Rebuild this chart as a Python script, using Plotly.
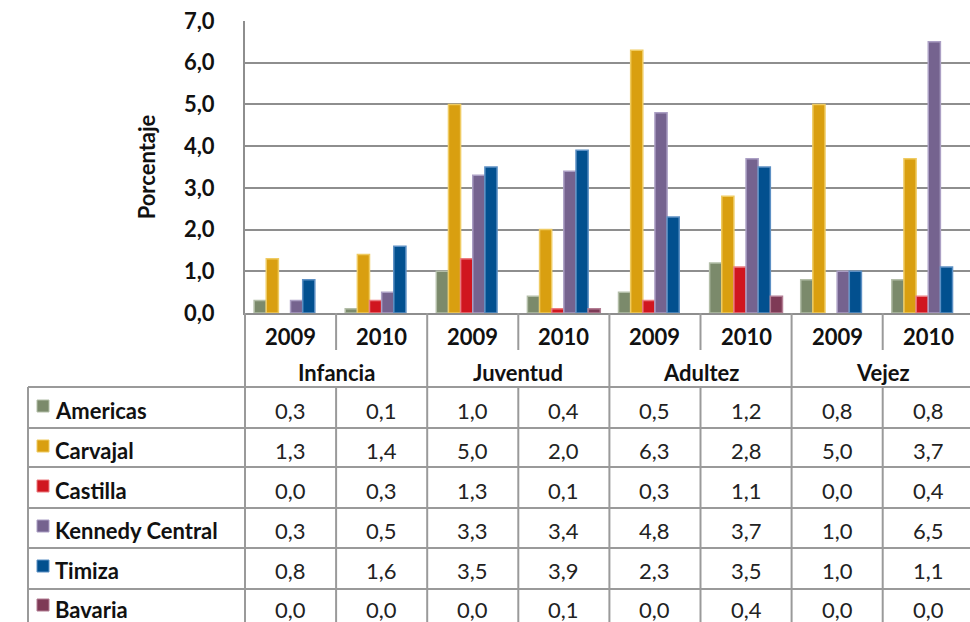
import plotly.graph_objects as go

# ---- data ----
groups = ["Infancia", "Juventud", "Adultez", "Vejez"]
years = ["2009", "2010"]
categories = [f"{g} {y}" for g in groups for y in years]

series_names = ["Americas", "Carvajal", "Castilla", "Kennedy Central", "Timiza", "Bavaria"]
americas = [0.3, 0.1, 1.0, 0.4, 0.5, 1.2, 0.8, 0.8]
carvajal = [1.3, 1.4, 5.0, 2.0, 6.3, 2.8, 5.0, 3.7]
castilla = [0.0, 0.3, 1.3, 0.1, 0.3, 1.1, 0.0, 0.4]
kennedy = [0.3, 0.5, 3.3, 3.4, 4.8, 3.7, 1.0, 6.5]
timiza = [0.8, 1.6, 3.5, 3.9, 2.3, 3.5, 1.0, 1.1]
bavaria = [0.0, 0.0, 0.0, 0.1, 0.0, 0.4, 0.0, 0.0]
series_values = [americas, carvajal, castilla, kennedy, timiza, bavaria]

y_title = "Porcentaje"

# ---- styles ----
fill_colors = ["#7b8a6b", "#d99f10", "#d0161f", "#75638f", "#02508f", "#7e3a56"]
edge_colors = ["#b3bea8", "#efcb62", "#ea7c80", "#ab9fc4", "#5d90c4", "#b27d93"]
FONT = "Lato, 'Open Sans', sans-serif"
GRID = "#8e8e8e"
TABLE = "#9a9a9a"
TXT = 22

W, H = 970, 622
plot_left, plot_top, plot_bottom = 245, 21, 313
cat_w = 91.1
x_range = [-0.5, (W - plot_left) / cat_w - 0.5]


def px_x(k):
    # category index (may be fractional) -> paper x
    return (plot_left + (k + 0.5) * cat_w) / W


def py(p):
    return 1 - p / H


fig = go.Figure()
for name, vals, fc, ec in zip(series_names, series_values, fill_colors, edge_colors):
    fig.add_trace(go.Bar(
        x=categories, y=vals, name=name,
        marker=dict(color=fc, line=dict(color=ec, width=[1.5 if v > 0 else 0 for v in vals])),
        showlegend=False,
    ))

shapes = []
annotations = []
line = dict(color=TABLE, width=2)

# header region vertical lines
for k in range(len(categories) + 1):
    xb = px_x(k - 0.5)
    if xb > 1.001:
        continue
    if k % 2 == 1:
        shapes.append(dict(type="line", xref="paper", yref="paper", x0=xb, x1=xb,
                           y0=py(plot_bottom), y1=py(350), line=line))
        shapes.append(dict(type="line", xref="paper", yref="paper", x0=xb, x1=xb,
                           y0=py(387), y1=0, line=line))
    else:
        shapes.append(dict(type="line", xref="paper", yref="paper", x0=xb, x1=xb,
                           y0=py(plot_bottom), y1=0, line=line))

# table outer left border
shapes.append(dict(type="line", xref="paper", yref="paper", x0=28 / W, x1=28 / W,
                   y0=py(387), y1=0, line=line))
row_lines = [387, 428, 467, 508, 548, 589]
for yl in row_lines:
    shapes.append(dict(type="line", xref="paper", yref="paper", x0=28 / W, x1=1,
                       y0=py(yl), y1=py(yl), line=line))

# year labels
for i, c in enumerate(categories):
    annotations.append(dict(x=i, y=py(336), xref="x", yref="paper", text=f"<b>{years[i % 2]}</b>",
                            showarrow=False, font=dict(size=TXT, color="#111"),
                            xanchor="center", yanchor="middle"))
# group labels
for j, g in enumerate(groups):
    annotations.append(dict(x=2 * j + 0.5, y=py(372), xref="x", yref="paper", text=f"<b>{g}</b>",
                            showarrow=False, font=dict(size=TXT, color="#111"),
                            xanchor="center", yanchor="middle"))

row_centers = [410, 450, 490, 530, 570, 609]
for r, (name, vals, fc, ec) in enumerate(zip(series_names, series_values, fill_colors, edge_colors)):
    yc = row_centers[r]
    shapes.append(dict(type="rect", xref="paper", yref="paper", x0=37 / W, x1=49 / W,
                       y0=py(yc - 10), y1=py(yc + 2), fillcolor=fc, line=dict(color=ec, width=1)))
    annotations.append(dict(x=53 / W, y=py(yc), xref="paper", yref="paper", text=f"<b>{name}</b>",
                            showarrow=False, font=dict(size=TXT, color="#111"),
                            xanchor="left", yanchor="middle"))
    for i, v in enumerate(vals):
        annotations.append(dict(x=i, y=py(yc), xref="x", yref="paper",
                                text=f"{v:.1f}".replace(".", ","),
                                showarrow=False, font=dict(size=TXT, color="#222"),
                                xanchor="center", yanchor="middle"))

fig.update_layout(
    width=W, height=H,
    margin=dict(l=0, r=0, t=0, b=0, autoexpand=False),
    paper_bgcolor="white", plot_bgcolor="white",
    font=dict(family=FONT, color="#111"),
    separators=",.",
    barmode="group", bargap=0.2, bargroupgap=0.0,
    xaxis=dict(domain=[plot_left / W, 1], range=x_range, showticklabels=False,
               showline=True, linecolor=GRID, linewidth=2, showgrid=False,
               ticks="", zeroline=False, fixedrange=True, automargin=False),
    yaxis=dict(domain=[py(plot_bottom), py(plot_top)], range=[0, 7], dtick=1,
               tickformat=".1f", showgrid=True, gridcolor=GRID, gridwidth=2,
               showline=True, linecolor=GRID, linewidth=2, zeroline=False,
               ticks="", ticklabelstandoff=24, automargin=False,
               tickfont=dict(size=TXT, color="#111", weight="bold"),
               title=dict(text=f"<b>{y_title}</b>", font=dict(size=22, color="#111"), standoff=22)),
    shapes=shapes,
    annotations=annotations,
)

fig.write_html(
    "out.html",
    config={"displayModeBar": False},
    post_script="document.body.style.margin='0';document.body.style.overflow='hidden';",
)
